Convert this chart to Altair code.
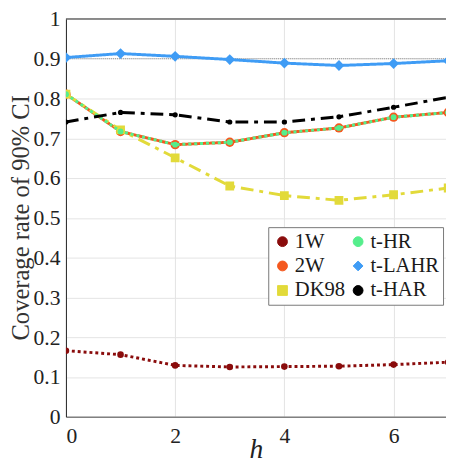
import altair as alt
import pandas as pd

h = [0, 1, 2, 3, 4, 5, 6, 7]
w1 = [0.166, 0.156, 0.129, 0.125, 0.126, 0.127, 0.131, 0.137]
w2 = [0.811, 0.717, 0.684, 0.690, 0.714, 0.726, 0.753, 0.765]
dk98 = [0.811, 0.721, 0.651, 0.580, 0.556, 0.544, 0.558, 0.575]
thr = [0.811, 0.717, 0.684, 0.690, 0.714, 0.726, 0.753, 0.765]
tlahr = [0.903, 0.913, 0.906, 0.898, 0.889, 0.883, 0.888, 0.895]
thar = [0.741, 0.765, 0.759, 0.741, 0.741, 0.754, 0.778, 0.803]

series = {"1W": w1, "2W": w2, "DK98": dk98, "t-HR": thr, "t-LAHR": tlahr, "t-HAR": thar}
rows = []
for name, vals in series.items():
    for hh, v in zip(h, vals):
        rows.append({"h": hh, "value": v, "series": name})
df = pd.DataFrame(rows)

dom = ["1W", "2W", "DK98", "t-HR", "t-LAHR", "t-HAR"]
cols = {"1W": "#8a0c0c", "2W": "#f4581e", "DK98": "#e2da3a", "t-HR": "#55ee8c",
        "t-LAHR": "#3f9cf5", "t-HAR": "#000000"}
shapes = {"1W": "circle", "2W": "circle", "DK98": "square", "t-HR": "circle",
          "t-LAHR": "diamond", "t-HAR": "circle"}

FONT = "Liberation Serif"
legend = alt.Legend(title=None, orient="none", legendX=206, legendY=212, columns=2,
                    labelFont=FONT, labelFontSize=21, labelColor="#1a1a1a",
                    strokeColor="#777777", fillColor="white", padding=4,
                    symbolSize=100, rowPadding=3, columnPadding=2, labelOffset=2,
                    symbolStrokeWidth=1, labelLimit=200)
color = alt.Color("series:N", scale=alt.Scale(domain=dom, range=[cols[d] for d in dom]), legend=legend)
shape = alt.Shape("series:N", scale=alt.Scale(domain=dom, range=[shapes[d] for d in dom]), legend=legend)

xaxis = alt.Axis(values=[0, 2, 4, 6], title="h", titleFontStyle="italic",
                 titleFont=FONT, labelFont=FONT, labelFontSize=22,
                 titleFontSize=28, titleY=42, titleBaseline="alphabetic",
                 labelPadding=9, domainColor="#808080", domainWidth=1.5)
yaxis = alt.Axis(values=[i / 10 for i in range(11)], format=".1~f",
                 title="Coverage rate of 90% CI", titleColor="#333333",
                 titleFont=FONT, labelFont=FONT, labelFontSize=22,
                 titleFontSize=25, titleX=-38, titleY=202, titleAngle=270,
                 titleAlign="center", titleBaseline="alphabetic",
                 labelPadding=6, domainColor="#222222")
xscale = alt.Scale(domain=[0, 6.96], nice=False)
yscale = alt.Scale(domain=[0, 1], nice=False)
x = alt.X("h:Q", scale=xscale, axis=xaxis)
y = alt.Y("value:Q", scale=yscale, axis=yaxis)

base = alt.Chart(df)

dashes = {"1W": [3, 3], "2W": [1, 0], "DK98": [13, 6, 4, 6], "t-HR": [3, 3],
          "t-LAHR": [1, 0], "t-HAR": [13, 6, 4, 6]}
sizes = {"1W": 45, "2W": 90, "DK98": 80, "t-HR": 35, "t-LAHR": 120, "t-HAR": 28}

layers = []
for name in dom:
    s = base.transform_filter(alt.datum.series == name)
    layers.append(s.mark_line(strokeWidth=3, strokeDash=dashes[name], clip=True).encode(
        x=x, y=y, color=color))
    layers.append(s.mark_point(filled=True, size=sizes[name], opacity=1, clip=True).encode(
        x=x, y=y, color=color, shape=shape))

ref = alt.Chart(pd.DataFrame({"value": [0.9]})).mark_rule(
    color="#8a8a8a", strokeWidth=1, strokeDash=[1, 1]).encode(y=y)
top = alt.Chart(pd.DataFrame({"value": [1.0]})).mark_rule(
    color="#222222", strokeWidth=1).encode(y=y)

chart = alt.layer(layers[0], ref, *layers[1:], top).properties(
    width=387, height=405,
    autosize=alt.AutoSizeParams(type="none"),
    padding={"left": 59, "top": 7, "right": 0, "bottom": 44},
).configure(font=FONT).configure_view(stroke=None).configure_axis(
    labelFont=FONT, labelColor="#222222",
    titleFont=FONT, titleFontWeight="normal", titleColor="#222222",
    ticks=False, gridColor="#e3e3e3", gridWidth=1,
)

chart.save("out.html", embed_options={"renderer": "svg", "actions": False})
